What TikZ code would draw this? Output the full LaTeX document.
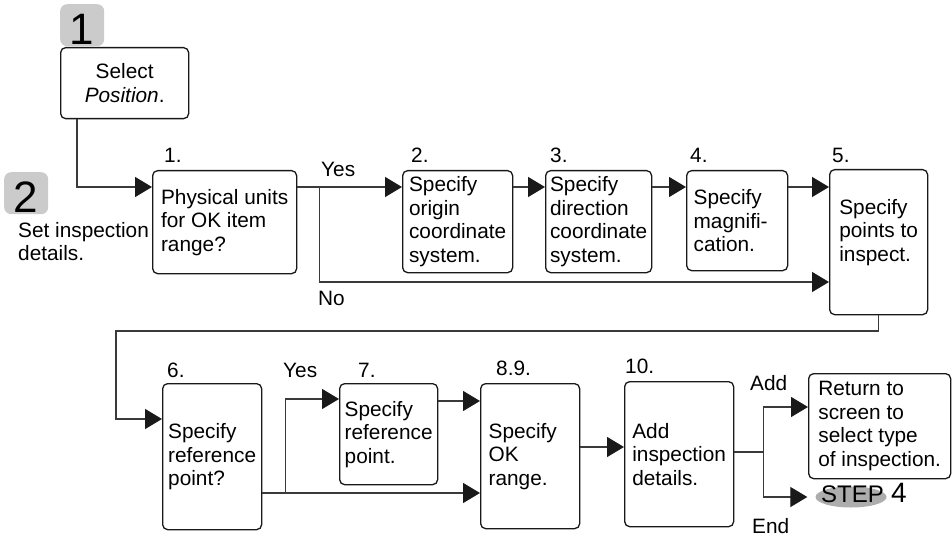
\documentclass[tikz,border=0pt]{standalone}
\usepackage{fontspec}
\setmainfont{Liberation Sans}
\usetikzlibrary{arrows.meta,positioning,calc,shapes.geometric}
\definecolor{badgegray}{HTML}{CBCBCB}
\definecolor{ovalgray}{HTML}{ADADAD}
\definecolor{wiregray}{HTML}{3A3A3A}
\newcommand\flowfont{\fontsize{20.8pt}{23.5pt}\selectfont}
\newcommand\bigdigit{\fontsize{44pt}{44pt}\selectfont}
\tikzset{
  >={Triangle[length=17pt,width=20pt,color=black!90]},
  % rutor
  stepbox/.style={draw=black!90,line width=1.3pt,rounded corners=5pt,fill=white,
                  align=left,inner sep=0pt,anchor=north west,font=\flowfont},
  selbox/.style={stepbox,align=center},
  badge/.style={fill=badgegray,rounded corners=7pt,inner sep=0pt,anchor=north west,
                minimum width=44pt,minimum height=42pt,font=\bigdigit,
                text height=38pt,text depth=0pt},
  numlbl/.style={font=\flowfont,inner sep=0pt,anchor=base west},
  % linjer
  wire/.style={draw=wiregray,line width=1.3pt},
  flow/.style={wire,->},
  stepoval/.style={ellipse,fill=ovalgray,inner sep=0pt,minimum width=71pt,minimum height=21pt},
}

\begin{document}
\begin{tikzpicture}[x=1pt,y=-1pt]
  \fill[white] (0,0) rectangle (952,537);
  \useasboundingbox (0,0) rectangle (952,537);
  % steg 1 och 2
  \node[badge] (badge1) at (60,4) {1};
  \node[selbox,minimum width=128pt,minimum height=71pt] (sel) at (60,47) {Select\\\textit{Position}.};
  \node[badge] (badge2) at (4,172) {2};
  \node[numlbl,align=left,anchor=north west] (settxt) at (18,222) {Set inspection\\details.};
  % övre raden
  \node[stepbox,minimum width=144pt,minimum height=103pt] (b1) at (152,170) {Physical units\\for OK item\\range?};
  \node[stepbox,minimum width=110pt,minimum height=102pt] (b2) at (402,170) {Specify\\origin\\coordinate\\system.};
  \node[stepbox,minimum width=106pt,minimum height=102pt] (b3) at (545,170) {Specify\\direction\\coordinate\\system.};
  \node[stepbox,minimum width=101pt,minimum height=100pt,text width=87pt] (b4) at (686,170) {Specify\\magnifi-\\cation.};
  \node[stepbox,minimum width=98pt,minimum height=145pt] (b5) at (829,169) {Specify\\points to\\inspect.\\\mbox{}};
  \node[numlbl] (n1) at ([xshift=12pt,yshift=7pt]b1.north west) {1.};
  \node[numlbl] (n2) at ([xshift=9pt,yshift=7pt]b2.north west) {2.};
  \node[numlbl] (n3) at ([xshift=5pt,yshift=7pt]b3.north west) {3.};
  \node[numlbl] (n4) at ([xshift=4pt,yshift=7pt]b4.north west) {4.};
  \node[numlbl] (n5) at ([xshift=3pt,yshift=6pt]b5.north west) {5.};
  % undre raden
  \node[stepbox,minimum width=99pt,minimum height=146pt] (b6) at (162,383) {Specify\\reference\\point?};
  \node[stepbox,minimum width=98pt,minimum height=101pt] (b7) at (339,383) {Specify\\reference\\point.};
  \node[stepbox,minimum width=99pt,minimum height=145pt,text width=83pt] (b89) at (480,383) {Specify\\OK\\range.};
  \node[stepbox,minimum width=109pt,minimum height=145pt] (b10) at (624,381) {Add\\inspection\\details.};
  \node[stepbox,minimum width=142pt,minimum height=105pt] (ret) at (808,373) {Return to\\screen to\\select type\\of inspection.};
  \node[numlbl] (n6) at ([xshift=5pt,yshift=6pt]b6.north west) {6.};
  \node[numlbl] (n7) at ([xshift=19pt,yshift=6pt]b7.north west) {7.};
  \node[numlbl] (n89) at ([xshift=16pt,yshift=8pt]b89.north west) {8.9.};
  \node[numlbl] (n10) at ([xshift=1pt,yshift=8pt]b10.north west) {10.};
  \node[stepoval] (stepoval) at (851,497) {};
  \node[anchor=base west,inner sep=0pt,font=\fontsize{24pt}{24pt}\selectfont] (steptxt) at (821,502) {STEP};
  \node[anchor=base west,inner sep=0pt,font=\fontsize{28pt}{28pt}\selectfont] (stepnum) at (891,502) {4};
  % förgreningar
  \node[numlbl] (yes1) at (321,177) {Yes};
  \node[numlbl] (no1) at (318,305) {No};
  \node[numlbl] (yes2) at (283,377) {Yes};
  \node[numlbl] (add) at (750,390) {Add};
  \node[numlbl] (end) at (752,533) {End};
  % pilar
  \draw[flow] ([xshift=17pt]sel.south west) |- ([yshift=-17pt]b1.north west);
  \draw[flow] ([yshift=-17pt]b1.north east) -- ([yshift=-17pt]b2.north west);
  \coordinate (j1) at ([xshift=22pt,yshift=-17pt]b1.north east);
  \draw[flow] (j1) |- ([yshift=-113pt]b5.north west);
  \draw[flow] ([yshift=-17pt]b2.north east) -- ([yshift=-17pt]b3.north west);
  \draw[flow] ([yshift=-17pt]b3.north east) -- ([yshift=-17pt]b4.north west);
  \draw[flow] ([yshift=-17pt]b4.north east) -- ([yshift=-18pt]b5.north west);
  \coordinate (wrap) at (116,331);
  \draw[flow] (b5.south) |- (wrap) |- ([yshift=-36pt]b6.north west);
  \draw[flow] ([yshift=-110pt]b6.north east) -- ([yshift=-110pt]b89.north west);
  \coordinate (j2) at ([xshift=23pt,yshift=-110pt]b6.north east);
  \draw[flow] (j2) |- ([yshift=-16pt]b7.north west);
  \draw[flow] ([yshift=-18pt]b7.north east) -- ([yshift=-18pt]b89.north west);
  \draw[flow] ([yshift=-64pt]b89.north east) -- ([yshift=-66pt]b10.north west);
  \coordinate (j3) at ([xshift=29pt,yshift=-71pt]b10.north east);
  \draw[wire] ([yshift=-71pt]b10.north east) -- (j3);
  \draw[flow] (j3) |- ([yshift=-34pt]ret.north west);
  \draw[flow] (j3) |- ([xshift=-8pt]stepoval.west);
\end{tikzpicture}
\end{document}
